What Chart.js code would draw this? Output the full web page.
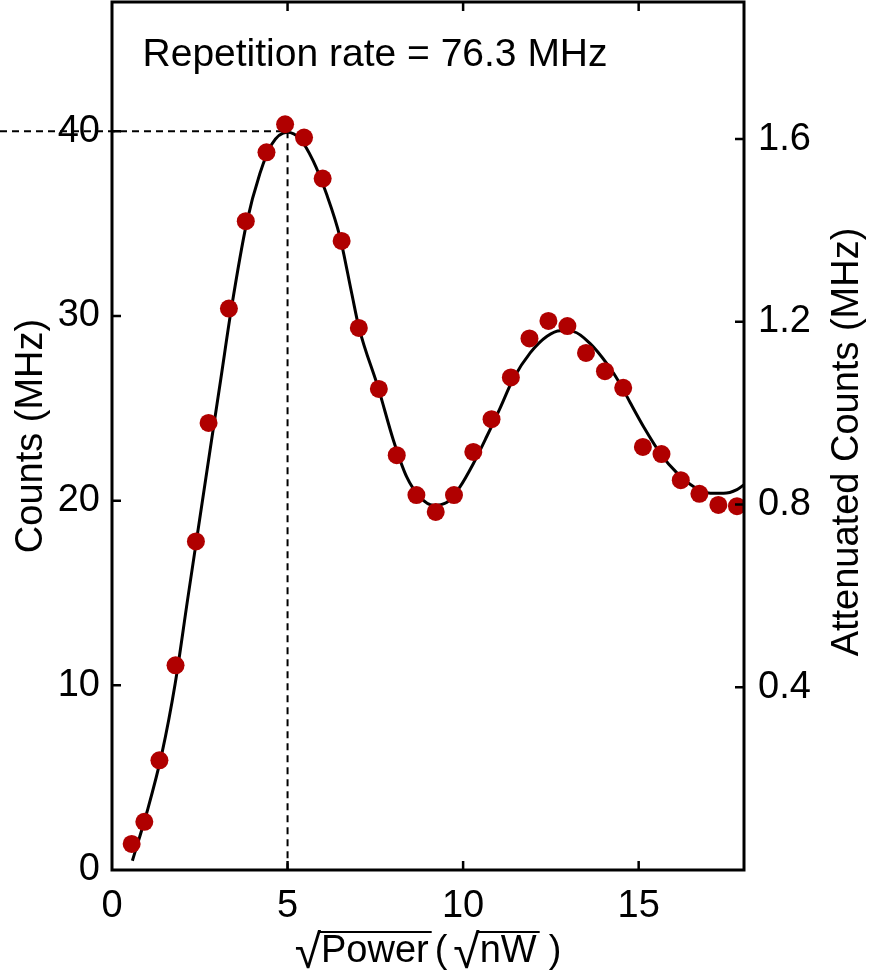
<!DOCTYPE html>
<html><head><meta charset="utf-8">
<title>Counts vs sqrt(Power)</title>
<script src="https://cdn.jsdelivr.net/npm/chart.js@4"></script>
<style>
    html, body { margin: 0; padding: 0; background: #fff; }
    canvas { display: block; }
</style></head>
<body>
<canvas id="grafico" width="875" height="980"></canvas>
<script>
// --- DADOS ---
const xPts = [0.56, 0.92, 1.35, 1.81, 2.39, 2.75, 3.33, 3.81, 4.40, 4.93, 5.47, 6.00, 6.54, 7.03, 7.60, 8.11, 8.67,
              9.22, 9.74, 10.29, 10.81, 11.36, 11.89, 12.43, 12.97, 13.50, 14.04, 14.56, 15.12, 15.65, 16.20, 16.73, 17.27, 17.80];
const yPts = [1.41, 2.61, 5.94, 11.08, 17.79, 24.21, 30.40, 35.13, 38.86, 40.38, 39.66, 37.44, 34.06, 29.35, 26.05, 22.46, 20.30,
              19.39, 20.30, 22.64, 24.41, 26.67, 28.78, 29.73, 29.45, 28.00, 27.01, 26.11, 22.91, 22.52, 21.11, 20.37, 19.77, 19.70];

// curva de ajuste (lida ponto a ponto)
const fitX = [0.58, 0.99, 1.42, 1.80, 2.15, 2.41, 2.79, 3.10, 3.40, 3.83, 4.21, 4.55, 4.99, 5.35, 5.73, 6.11, 6.49, 6.83, 7.03,
              7.60, 8.01, 8.39, 8.77, 9.15, 9.53, 9.91, 10.29, 10.68, 11.05, 11.43, 11.91, 12.39, 12.77, 13.15, 13.62, 14.10,
              14.48, 14.76, 15.14, 15.62, 16.09, 16.57, 17.04, 17.42, 17.80, 17.99];
const fitY = [0.5, 3.1, 6.3, 10.1, 14.6, 17.9, 22.7, 26.6, 30.4, 35.0, 37.7, 39.3, 39.95, 39.6, 38.4, 36.6, 34.3, 31.2, 29.4,
              26.0, 23.3, 21.3, 20.2, 19.75, 19.9, 20.75, 22.0, 23.5, 25.0, 26.6, 28.0, 28.9, 29.2, 29.15, 28.5, 27.4,
              26.3, 25.3, 24.0, 22.55, 21.5, 20.75, 20.4, 20.4, 20.6, 20.85];

const xTicks = [0, 5, 10, 15];
const yTicks = [0, 10, 20, 30, 40];
const y2Ticks = [0.4, 0.8, 1.2, 1.6];
const peakX = 5, peakY = 40;
const anotacao = 'Repetition rate = 76.3 MHz';

const FONT = "'Liberation Sans', Arial, Helvetica, sans-serif";
const FS = 38;

// --- PLUGIN: moldura, ticks para dentro, linhas tracejadas e textos ---
const moldura = {
    id: 'moldura',
    beforeDatasetsDraw(chart) {
        const { ctx, scales: { x, y } } = chart;
        const px = x.getPixelForValue(peakX), py = y.getPixelForValue(peakY);
        ctx.save();
        ctx.strokeStyle = '#000';
        ctx.lineWidth = 2;
        ctx.setLineDash([7, 5]);
        ctx.beginPath();
        ctx.moveTo(0, py); ctx.lineTo(px, py);
        ctx.moveTo(px, py); ctx.lineTo(px, y.getPixelForValue(0));
        ctx.stroke();
        ctx.restore();
    },
    afterDraw(chart) {
        const { ctx, chartArea: a, scales: { x, y, y2 } } = chart;
        ctx.save();
        ctx.strokeStyle = '#000';
        ctx.lineWidth = 3;
        ctx.strokeRect(a.left, a.top, a.right - a.left, a.bottom - a.top);

        const tl = 9;
        ctx.lineWidth = 2.5;
        ctx.beginPath();
        xTicks.forEach(v => {
            if (v <= x.min || v >= x.max) return;
            const p = x.getPixelForValue(v);
            ctx.moveTo(p, a.bottom); ctx.lineTo(p, a.bottom - tl);
            ctx.moveTo(p, a.top); ctx.lineTo(p, a.top + tl);
        });
        yTicks.forEach(v => {
            if (v <= y.min || v >= y.max) return;
            const p = y.getPixelForValue(v);
            ctx.moveTo(a.left, p); ctx.lineTo(a.left + tl, p);
        });
        y2Ticks.forEach(v => {
            const p = y2.getPixelForValue(v);
            ctx.moveTo(a.right, p); ctx.lineTo(a.right - tl, p);
        });
        ctx.stroke();

        ctx.fillStyle = '#000';
        ctx.textAlign = 'left';
        ctx.textBaseline = 'alphabetic';

        // anotação no topo
        ctx.font = '39px ' + FONT;
        ctx.fillText(anotacao, x.getPixelForValue(0.87), y.getPixelForValue(43.55));

        // titulo do eixo x: √Power(√nW) com barra do radical
        const fRad = '48px ' + FONT, fTxt = FS + 'px ' + FONT;
        const partes = [
            { t: '\u221A', f: fRad }, { t: 'Power', f: fTxt, barra: true }, { t: '(', f: fTxt, gap: 6 },
            { t: '\u221A', f: fRad, gap: 6 }, { t: 'nW', f: fTxt, barra: true }, { t: ')', f: fTxt, gap: 12 }
        ];
        partes.forEach(p => { ctx.font = p.f; p.w = ctx.measureText(p.t).width; });
        const total = partes.reduce((s, p) => s + p.w + (p.gap || 0), 0);
        let cx = (a.left + a.right) / 2 - total / 2;
        const base = 962, yBarra = 932;
        ctx.lineWidth = 2;
        partes.forEach(p => {
            cx += p.gap || 0;
            ctx.font = p.f;
            ctx.fillText(p.t, cx, p.f === fRad ? base + 6 : base);
            if (p.barra) {
                ctx.beginPath();
                ctx.moveTo(cx - 2, yBarra); ctx.lineTo(cx + p.w + 3, yBarra);
                ctx.stroke();
            }
            cx += p.w;
        });

        // titulo do eixo direito (rotacionado, de baixo para cima)
        ctx.font = fTxt;
        ctx.translate(848, 442);
        ctx.rotate(-Math.PI / 2);
        ctx.textAlign = 'center';
        ctx.textBaseline = 'middle';
        ctx.fillText('Attenuated Counts (MHz)', 0, 0);
        ctx.restore();
    }
};

const fonteTicks = { family: FONT, size: FS };
const semPadding = s => { s.paddingTop = 0; s.paddingBottom = 0; s.paddingLeft = 0; s.paddingRight = 0; };

const chart = new Chart(document.getElementById('grafico').getContext('2d'), {
    type: 'scatter',
    data: {
        datasets: [
            {
                type: 'scatter',
                label: 'Medidas',
                data: xPts.map((v, i) => ({ x: v, y: yPts[i] })),
                backgroundColor: '#b00000',
                borderWidth: 0,
                pointRadius: 9,
                pointHoverRadius: 9,
                order: 0
            },
            {
                type: 'line',
                label: 'Ajuste',
                data: fitX.map((v, i) => ({ x: v, y: fitY[i] })),
                borderColor: '#000',
                borderWidth: 3,
                pointRadius: 0,
                cubicInterpolationMode: 'monotone',
                fill: false,
                order: 1
            }
        ]
    },
    options: {
        responsive: false,
        animation: false,
        devicePixelRatio: 1,
        layout: { autoPadding: false, padding: { top: 2, left: 0, right: 0, bottom: 0 } },
        plugins: { legend: { display: false }, tooltip: { enabled: false } },
        scales: {
            x: {
                type: 'linear', min: 0, max: 18,
                grid: { display: false, drawTicks: false },
                border: { display: false },
                ticks: { font: fonteTicks, color: '#000', padding: 14, autoSkip: false, maxRotation: 0 },
                afterBuildTicks: s => { s.ticks = xTicks.map(v => ({ value: v })); },
                afterFit: s => { s.height = 110; semPadding(s); }
            },
            y: {
                type: 'linear', position: 'left', min: 0, max: 47,
                grid: { display: false, drawTicks: false },
                border: { display: false },
                ticks: { font: fonteTicks, color: '#000', padding: 12, autoSkip: false },
                afterBuildTicks: s => { s.ticks = yTicks.map(v => ({ value: v })); },
                afterFit: s => { s.width = 112; semPadding(s); },
                title: { display: true, text: 'Counts (MHz)', color: '#000', font: fonteTicks, padding: { top: 9 } }
            },
            y2: {
                type: 'linear', position: 'right', min: 0, max: 1.9,
                grid: { display: false, drawTicks: false },
                border: { display: false },
                ticks: { font: fonteTicks, color: '#000', padding: 14, autoSkip: false },
                afterBuildTicks: s => { s.ticks = y2Ticks.map(v => ({ value: v })); },
                afterFit: s => { s.width = 131; semPadding(s); }
            }
        }
    },
    plugins: [moldura]
});
</script>
</body></html>
